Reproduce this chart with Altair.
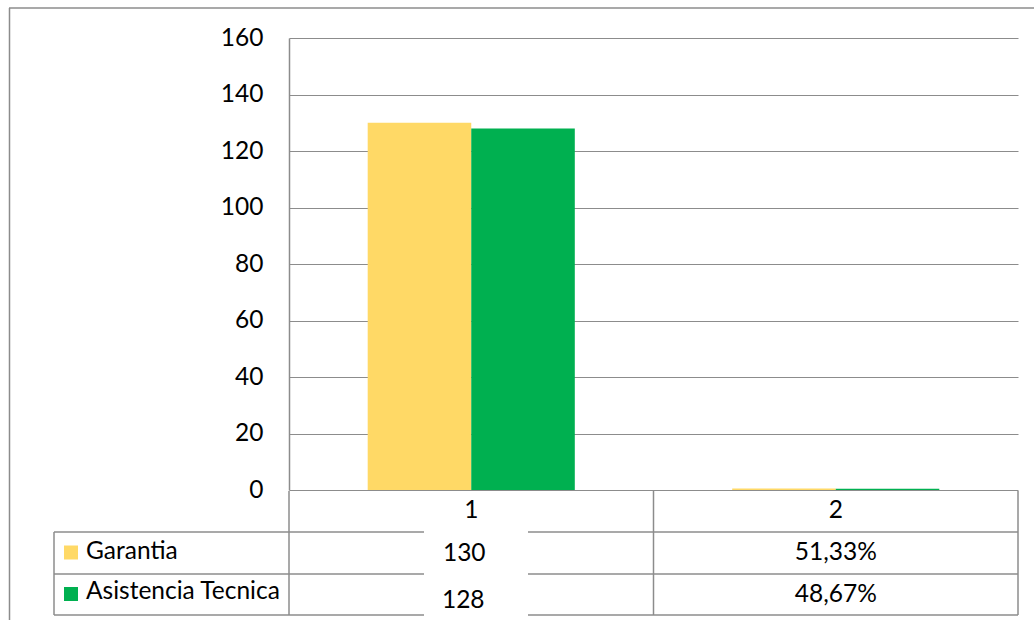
import altair as alt
import pandas as pd

# Source values
categories = ["1", "2"]
series_names = ["Garantia", "Asistencia Tecnica"]
garantia = [130, 0.5133]
asistencia = [128, 0.4867]
series_colors = ["#FFD966", "#00B050"]
y_ticks = [0, 20, 40, 60, 80, 100, 120, 140, 160]


def fmt(v):
    if v >= 1:
        return f"{v:.0f}"
    return f"{v * 100:.2f}%".replace(".", ",")


rows = []
for s, vals in zip(series_names, [garantia, asistencia]):
    for c, v in zip(categories, vals):
        rows.append({"category": c, "series": s, "value": v, "label": fmt(v)})
df = pd.DataFrame(rows)
one = pd.DataFrame({"k": [0]})

W, H = 729, 452
FONT = "Lato"
FS = 24.5
GRID = "#8c8c8c"
LINE_W = 1.5

x_scale = alt.Scale(domain=categories, paddingInner=0, paddingOuter=0)
x_axis = alt.Axis(
    title=None, labelAngle=0, domain=False, ticks=False, grid=False,
    labelFont=FONT, labelFontSize=FS, labelColor="black",
    labelPadding=20, labelBaseline="middle",
)
x_enc = alt.X("category:N", scale=x_scale, axis=x_axis)
color_scale = alt.Scale(domain=series_names, range=series_colors)

base = alt.Chart(df)

bars = base.mark_bar().encode(
    x=x_enc,
    xOffset=alt.XOffset(
        "series:N",
        scale=alt.Scale(domain=series_names, paddingInner=0, paddingOuter=0.76),
    ),
    y=alt.Y(
        "value:Q",
        scale=alt.Scale(domain=[0, 160], nice=False),
        axis=alt.Axis(
            title=None, values=y_ticks, grid=True, gridColor=GRID, gridWidth=1,
            domainColor=GRID, domainWidth=LINE_W, ticks=False,
            labelFont=FONT, labelFontSize=FS, labelColor="black", labelPadding=26,
        ),
    ),
    color=alt.Color("series:N", scale=color_scale, legend=None),
)


def hline(y, x1, x2, color=GRID):
    return alt.Chart(one).mark_rule(color=color, strokeWidth=LINE_W).encode(
        x=alt.value(x1), x2=alt.value(x2), y=alt.value(y)
    )


def vline(x, y1, y2, color=GRID):
    return alt.Chart(one).mark_rule(color=color, strokeWidth=LINE_W).encode(
        x=alt.value(x), y=alt.value(y1), y2=alt.value(y2)
    )


# data table grid below the plot
table_lines = [
    hline(494, -235, W), hline(536, -235, W), hline(577, -235, W),
    vline(-235, 494, 577), vline(0, 453, 577), vline(W / 2, 453, 577), vline(W, 453, 577),
]

# chart frame
frame = [hline(-30, -280, W + 20), vline(-279.5, -30, 590)]

# text box over the first value column
patch = alt.Chart(one).mark_rect(color="white").encode(
    x=alt.value(135), x2=alt.value(239), y=alt.value(484), y2=alt.value(585)
)


def cell_text(series, category, y, dx=0):
    return base.transform_filter(
        (alt.datum.series == series) & (alt.datum.category == category)
    ).mark_text(font=FONT, fontSize=FS, color="black", baseline="middle", dx=dx).encode(
        x=x_enc,
        y=alt.value(y),
        text="label:N",
    )


cells = [
    cell_text("Garantia", "1", 516, -7),
    cell_text("Asistencia Tecnica", "1", 562.5, -8),
    cell_text("Garantia", "2", 515),
    cell_text("Asistencia Tecnica", "2", 556.5),
]


def legend_row(series, y_key, y_text):
    sub = base.transform_filter(
        (alt.datum.series == series) & (alt.datum.category == "1")
    )
    key = sub.mark_square(size=196, opacity=1).encode(
        x=alt.value(-218), y=alt.value(y_key),
        color=alt.Color("series:N", scale=color_scale, legend=None),
    )
    txt = sub.mark_text(font=FONT, fontSize=FS, color="black", align="left",
                        baseline="middle").encode(
        x=alt.value(-203), y=alt.value(y_text), text="series:N"
    )
    return [key, txt]


legend_rows = legend_row("Garantia", 514.5, 514) + legend_row("Asistencia Tecnica", 556, 554)

chart = alt.layer(
    bars, *table_lines, *frame, patch, *cells, *legend_rows
).properties(
    width=W,
    height=H,
    padding={"left": 289, "top": 38, "right": 16, "bottom": 130},
    autosize=alt.AutoSizeParams(type="none"),
    background="white",
).configure_view(stroke=None)

chart.save("out.html", embed_options={"renderer": "svg", "actions": False})
